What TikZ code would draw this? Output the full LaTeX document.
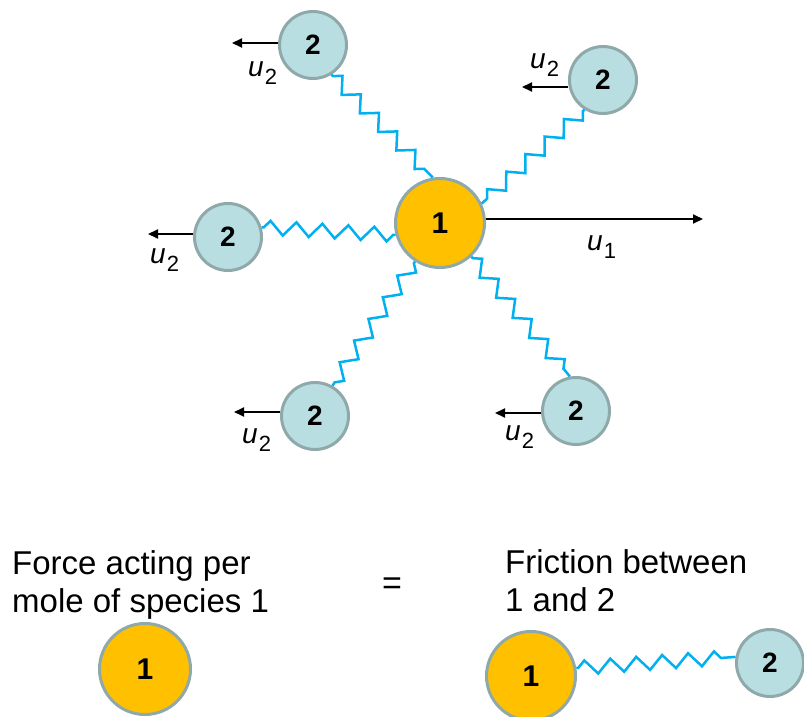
\documentclass[tikz,border=0pt]{standalone}
\usepackage{fontspec}
\setmainfont{Liberation Sans}
\usetikzlibrary{decorations.pathmorphing,arrows.meta}
\definecolor{orng}{HTML}{FFC000}
\definecolor{lblue}{HTML}{B9DEE2}
\definecolor{rim}{HTML}{8FA8AA}
\definecolor{springc}{HTML}{00B0F0}
\newcommand\ulab[1]{{\fontsize{28}{28}\selectfont\itshape u}\kern1pt\raisebox{-8pt}{\fontsize{22}{22}\selectfont #1}}
\begin{document}
\begin{tikzpicture}[x=1pt,y=-1pt,
  one/.style={circle,draw=rim,fill=orng,line width=3pt,minimum size=89pt,inner sep=0pt,
    font=\fontsize{30}{30}\selectfont\bfseries},
  two/.style={circle,draw=rim,fill=lblue,line width=3pt,minimum size=67pt,inner sep=0pt,
    font=\fontsize{28}{28}\selectfont\bfseries},
  spring/.style={draw=springc,line width=2.5pt,decorate,
    decoration={zigzag,amplitude=7pt,segment length=26pt,pre length=2pt,post length=2pt}},
  arr/.style={draw=black,line width=2pt,-{Triangle[length=10pt,width=9pt]}},
  lab/.style={anchor=base west,inner sep=0pt},
  txt/.style={anchor=north west,inner sep=0pt,align=left,font=\fontsize{33}{38}\selectfont}]
\useasboundingbox (0,0) rectangle (804,717);

% top diagram
\node[one] (n1) at (440,223) {1};
\node[two] (a) at (313,45) {2};
\node[two] (b) at (603,80) {2};
\node[two] (c) at (228,237) {2};
\node[two] (d) at (315,416) {2};
\node[two] (e) at (576,411) {2};

\draw[spring] (a.-58) -- (n1.99);
\draw[spring] (b.-122) -- (n1.25);
\draw[spring] (c.16) -- (n1.195);
\draw[spring] (n1.-123) -- (d.60);
\draw[spring] (n1.-47) -- (e.100);

\coordinate (ta) at (232,43);
\coordinate (tb) at (522,87);
\coordinate (tc) at (148,234);
\coordinate (td) at (234,412);
\coordinate (te) at (495,413);
\coordinate (t1) at (703,219);
\draw[arr] (a.west |- ta) -- (ta);
\draw[arr] (b.west |- tb) -- (tb);
\draw[arr] (c.west |- tc) -- (tc);
\draw[arr] (d.west |- td) -- (td);
\draw[arr] (e.west |- te) -- (te);
\draw[arr] (n1.east |- t1) -- (t1);

\node[lab] (la) at (248,77) {\ulab{2}};
\node[lab] (lb) at (530,69) {\ulab{2}};
\node[lab] (lc) at (150,263) {\ulab{2}};
\node[lab] (ld) at (242,443) {\ulab{2}};
\node[lab] (le) at (505,440) {\ulab{2}};
\node[lab] (l1) at (587,250) {\ulab{1}};

% bottom equation
\node[txt] (tl) at (12,550) {Force acting per\\mole of species 1};
\node[anchor=base,inner sep=0pt,font=\fontsize{34}{34}\selectfont] (eq) at (392,594) {=};
\node[txt] (tr) at (505,549) {Friction between\\1 and 2};

\node[one,minimum size=91pt] (B1) at (145,669) {1};
\node[one,minimum size=89pt] (C1) at (531,676) {1};
\node[two] (C2) at (770,663) {2};
\draw[spring] (C1.10) -- (C2.170);
\end{tikzpicture}
\end{document}
